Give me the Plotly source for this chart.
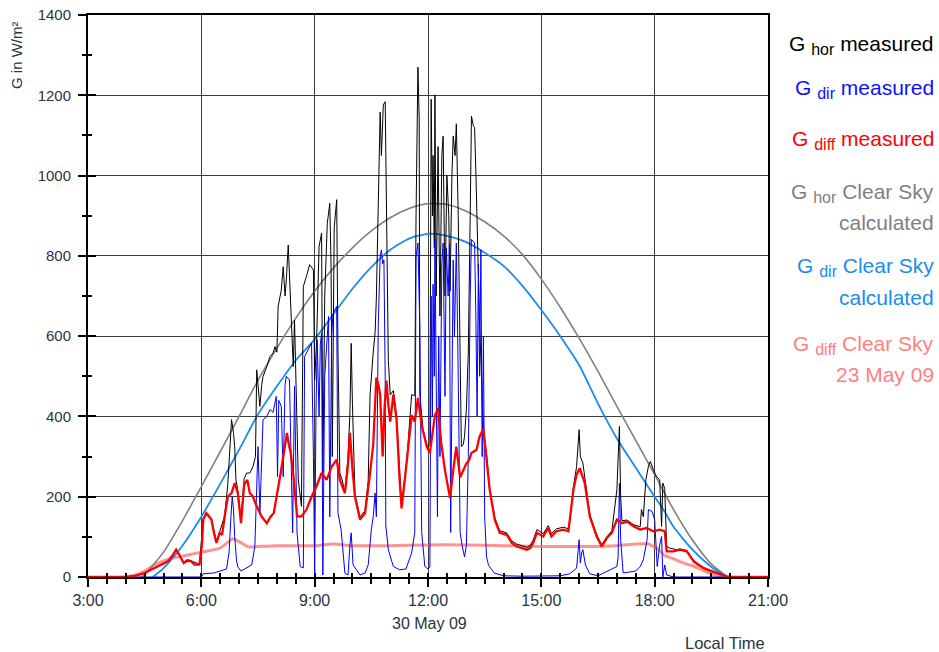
import plotly.graph_objects as go

DAY = "2009-05-30 "

# ---------------- data ----------------
# G_diff measured
diff_t = ["03:00","04:00","04:15","04:30","04:40","04:51","05:00","05:07","05:15","05:20",
          "05:25","05:32","05:38","05:44","05:49","05:57","06:01","06:03","06:08","06:12",
          "06:16","06:20","06:24","06:29","06:33","06:37","06:42","06:48","06:53","06:58",
          "07:03","07:08","07:13","07:17","07:22","07:28","07:36","07:44","07:50","07:55",
          "08:00","08:06","08:11","08:16","08:19","08:22","08:27","08:32","08:39","08:47",
          "08:55","09:03","09:11","09:19","09:27","09:35","09:40","09:48","09:53","09:56",
          "10:00","10:04","10:12","10:20","10:28","10:33","10:38","10:41","10:44","10:48",
          "10:51","10:54","10:57","11:00","11:05","11:10","11:15","11:18","11:23","11:29",
          "11:34","11:39","11:44","11:50","11:58","12:03","12:08","12:11","12:16","12:21",
          "12:27","12:35","12:40","12:45","12:51","12:56","13:01","13:05","13:09","13:17",
          "13:22","13:28","13:33","13:38","13:46","13:54","14:05","14:13","14:21","14:29",
          "14:37","14:42","14:47","14:53","15:03","15:11","15:16","15:24","15:35","15:43",
          "15:47","15:51","15:56","16:01","16:09","16:17","16:28","16:36","16:44","16:52",
          "17:00","17:08","17:16","17:27","17:37","17:47","17:58","18:08","18:16","18:19",
          "18:30","18:40","18:51","19:02","19:10","19:18","19:31","19:44","19:57","21:00"]
diff_v = [0,0,3,10,18,26,32,39,55,68,
          55,35,42,39,31,31,80,143,159,150,
          143,110,85,110,105,150,200,209,234,209,
          134,230,242,209,200,176,150,134,150,159,
          200,259,309,359,330,309,242,151,151,168,
          200,226,259,242,275,292,242,209,280,359,
          270,200,143,159,259,330,497,480,454,300,
          420,489,430,387,454,394,240,171,240,335,
          403,387,446,377,325,309,370,403,420,334,
          265,197,265,325,248,265,283,290,309,317,
          350,369,300,217,143,110,105,85,76,72,
          68,72,85,110,101,122,101,114,118,114,
          160,217,255,271,234,151,101,76,97,110,
          143,134,138,126,118,122,114,118,114,64,
          64,68,64,39,30,22,14,6,0,0]

# G_hor measured
hor_t = ["04:00","04:15","04:30","04:51","05:07","05:20","05:32","05:44","05:57","06:03",
         "06:08","06:16","06:24","06:29","06:37","06:42","06:46","06:48","06:51","06:53",
         "06:55","06:58","07:03","07:08","07:12","07:17","07:22","07:26","07:28","07:30",
         "07:33","07:36","07:38","07:44","07:49","07:54","07:57","08:00","08:02","08:07",
         "08:10","08:13","08:15","08:18","08:20","08:23","08:26","08:28","08:30","08:34",
         "08:39","08:42","08:47","08:52","08:58","09:00","09:03","09:07","09:11","09:13",
         "09:16","09:20","09:24","09:26","09:28","09:31","09:35","09:37","09:40","09:44",
         "09:48","09:53","09:56","09:58","10:00","10:04","10:12","10:20","10:25","10:28",
         "10:33","10:36","10:38","10:41","10:44","10:46","10:49","10:52","10:54","10:57",
         "11:00","11:05","11:10","11:13","11:18","11:23","11:26","11:34","11:39","11:41",
         "11:43","11:44","11:46","11:47","11:52","11:58","12:00","12:03","12:05","12:07",
         "12:08","12:10","12:11","12:13","12:16","12:19","12:22","12:24","12:27","12:30",
         "12:33","12:35","12:38","12:40","12:43","12:45","12:48","12:51","12:53","12:56",
         "12:58","13:01","13:04","13:07","13:09","13:12","13:14","13:16","13:19","13:22",
         "13:25","13:28","13:33","13:38","13:46","13:54","14:05","14:13","14:21","14:29",
         "14:37","14:42","14:47","14:53","15:03","15:11","15:16","15:24","15:35","15:43",
         "15:47","15:51","15:56","16:00","16:02","16:06","16:09","16:17","16:28","16:36",
         "16:44","16:52","17:00","17:02","17:04","17:06","17:08","17:16","17:27","17:37",
         "17:39","17:42","17:46","17:50","17:53","17:58","18:03","18:08","18:11","18:13",
         "18:16","18:19","18:24","18:35","18:40","18:51","19:02","19:18","19:31","19:44",
         "19:57"]
hor_v = [0,3,10,26,39,70,36,40,32,145,
         161,145,87,112,152,230,330,392,360,325,
         242,215,140,245,259,259,275,300,516,470,
         425,480,500,524,549,558,574,560,674,715,
         773,700,740,827,760,657,524,640,500,242,
         176,724,749,778,765,491,583,823,857,260,
         700,880,931,780,300,870,940,560,259,240,
         209,300,408,582,430,205,150,165,240,454,
         560,609,695,900,1158,1050,1176,1184,884,540,
         454,464,400,325,180,245,283,454,452,900,
         1236,1270,1141,454,369,330,325,330,1190,900,
         1050,820,1201,700,1072,650,1050,1098,700,1000,
         900,712,1000,1098,1050,1129,900,541,325,330,
         350,420,558,900,1148,1124,1120,1012,800,626,
         500,369,305,220,148,115,110,90,82,78,
         74,78,92,118,108,128,108,120,124,120,
         165,225,275,367,300,284,250,155,105,80,
         100,115,217,300,375,200,140,142,130,125,
         168,150,242,275,288,267,250,242,126,234,
         220,76,72,68,70,66,41,23,15,7,
         0]

# G_dir measured
dir_t = ["04:00","06:00","06:03","06:20","06:40","06:44","06:47","06:49","06:51","06:53",
         "06:56","06:58","07:03","07:14","07:20","07:25","07:28","07:30","07:33","07:36",
         "07:38","07:44","07:49","07:54","07:59","08:01","08:03","08:07","08:10","08:13",
         "08:15","08:20","08:23","08:25","08:28","08:32","08:37","08:42","08:44","08:47",
         "08:55","08:58","09:00","09:02","09:04","09:07","09:09","09:11","09:13","09:16",
         "09:22","09:24","09:27","09:29","09:35","09:37","09:42","09:48","09:53","09:56",
         "09:58","10:01","10:12","10:20","10:25","10:30","10:33","10:36","10:38","10:41",
         "10:44","10:46","10:48","10:50","10:52","10:53","10:57","11:05","11:15","11:25",
         "11:34","11:39","11:41","11:44","11:47","11:50","11:55","12:00","12:03","12:05",
         "12:07","12:08","12:10","12:11","12:13","12:15","12:17","12:19","12:22","12:24",
         "12:27","12:29","12:32","12:34","12:36","12:38","12:40","12:42","12:45","12:48",
         "12:51","12:54","12:58","13:01","13:04","13:07","13:09","13:12","13:14","13:16",
         "13:18","13:20","13:22","13:24","13:26","13:28","13:30","13:33","13:36","13:45",
         "14:00","14:30","15:00","15:30","15:45","15:56","16:00","16:02","16:04","16:06",
         "16:10","16:17","16:30","17:00","17:02","17:04","17:06","17:10","17:30","17:37",
         "17:42","17:48","17:50","17:56","18:00","18:04","18:08","18:11","18:13","18:16",
         "18:19","18:30","20:00"]
dir_v = [0,0,8,10,20,60,150,200,170,100,
         40,25,15,25,30,76,200,325,160,275,
         392,400,417,410,450,250,440,425,250,480,
         500,491,300,110,475,110,26,23,549,558,
         583,300,10,400,591,400,580,608,5,500,
         649,150,600,656,674,160,118,10,5,80,
         110,30,5,10,30,118,150,209,150,626,
         797,815,780,790,497,128,68,26,18,20,
         60,111,797,832,626,111,26,20,25,700,
         400,729,500,841,450,150,600,300,780,832,
         450,820,700,830,111,500,790,600,832,500,
         111,80,50,80,300,700,841,836,832,650,
         400,780,500,815,300,600,150,50,30,10,
         3,2,2,3,8,22,93,35,60,68,
         30,8,3,26,51,234,93,10,15,26,
         43,93,168,163,143,26,80,101,0,30,
         5,0,0]

# G_hor clear sky (calculated)
csh_t = ["04:25","04:30","05:00","05:30","06:00","06:30","07:00","07:30","08:00","08:30",
         "09:00","09:30","10:00","10:30","11:00","11:30","12:00","12:30","13:00","13:30",
         "14:00","14:30","15:00","15:30","16:00","16:30","17:00","17:30","18:00","18:30",
         "19:00","19:30","19:56"]
csh_v = [0,6,62,140,225,312,400,490,570,645,
         712,770,820,862,895,918,930,928,912,885,
         850,803,742,672,595,512,425,340,255,168,
         92,32,0]

# G_dir clear sky (calculated)
csd_t = ["04:43","05:00","05:30","06:00","06:30","07:00","07:30","08:00","08:30","09:00",
         "09:30","10:00","10:30","11:00","11:30","12:00","12:30","13:00","13:30","14:00",
         "14:30","15:00","15:30","16:00","16:30","17:00","17:30","18:00","18:15","18:30",
         "19:00","19:30","19:55"]
csd_v = [0,22,78,150,232,317,405,475,540,592,
         655,718,772,815,843,855,850,835,808,775,
         725,665,600,528,432,345,272,200,165,125,
         68,25,0]

# G_diff clear sky (23 May 09)
csf_t = ["04:00","04:15","04:30","04:45","05:00","05:15","05:30","05:45","06:00","06:30",
         "06:50","07:00","07:15","07:30","08:00","09:00","09:30","10:00","11:00","12:00",
         "13:00","14:00","15:00","16:00","17:00","17:30","17:50","18:05","18:15","18:30",
         "18:45","19:00","19:15","19:30","19:45","20:00"]
csf_v = [0,5,15,30,40,48,52,57,62,72,
         95,88,75,76,78,78,82,78,78,80,
         80,78,76,76,78,82,82,70,55,45,
         35,28,18,8,2,0]

for a, b in [(diff_t, diff_v), (hor_t, hor_v), (dir_t, dir_v),
             (csh_t, csh_v), (csd_t, csd_v), (csf_t, csf_v)]:
    assert len(a) == len(b), (len(a), len(b))

def ts(lst):
    return [DAY + t for t in lst]

FONT = "Liberation Sans, Arial, sans-serif"
TICKCOL = "#2b3440"

fig = go.Figure()
fig.add_trace(go.Scatter(x=ts(csf_t), y=csf_v, mode="lines",
                         line=dict(color="rgba(255,110,110,0.75)", width=3, shape="spline", smoothing=0.5)))
fig.add_trace(go.Scatter(x=ts(csh_t), y=csh_v, mode="lines",
                         line=dict(color="#808080", width=1.6, shape="spline", smoothing=0.6)))
fig.add_trace(go.Scatter(x=ts(csd_t), y=csd_v, mode="lines",
                         line=dict(color="#1a8cf0", width=1.8, shape="spline", smoothing=0.6)))
fig.add_trace(go.Scatter(x=ts(hor_t), y=hor_v, mode="lines",
                         line=dict(color="#000000", width=1)))
fig.add_trace(go.Scatter(x=ts(dir_t), y=dir_v, mode="lines",
                         line=dict(color="#0000ff", width=1)))
fig.add_trace(go.Scatter(x=ts(diff_t), y=diff_v, mode="lines",
                         line=dict(color="#ff0000", width=2.3)))
# helper trace to carry the inner half of the crossing ticks
fig.add_trace(go.Scatter(x=[DAY + "03:00"], y=[0], xaxis="x2", yaxis="y2", mode="markers",
                         marker=dict(opacity=0), hoverinfo="skip"))

xr = [DAY + "03:00", DAY + "21:00"]
H3 = 3 * 3600 * 1000
M30 = 1800 * 1000

fig.update_layout(
    width=939, height=652,
    margin=dict(l=88, r=171, t=15, b=75),
    paper_bgcolor="white", plot_bgcolor="white",
    showlegend=False,
    xaxis=dict(type="date", range=xr, tick0=DAY + "00:00", dtick=H3, tickformat="%-H:%M",
               ticks="outside", ticklen=8, tickwidth=2, tickcolor="black",
               showline=True, linewidth=2, linecolor="black", mirror=True,
               showgrid=True, gridcolor="#3c3c3c", gridwidth=1, zeroline=False,
               layer="below traces", ticklabelstandoff=0, automargin=False,
               tickfont=dict(family=FONT, size=16, color=TICKCOL),
               minor=dict(dtick=M30, tick0=DAY + "00:00", ticks="outside", ticklen=5,
                          tickwidth=2, tickcolor="black", showgrid=False)),
    xaxis2=dict(type="date", range=xr, overlaying="x", anchor="y", side="bottom",
                tick0=DAY + "00:00", dtick=H3, ticks="inside", ticklen=4, tickwidth=2,
                tickcolor="black", showticklabels=False, showgrid=False, showline=False,
                zeroline=False, automargin=False,
                minor=dict(dtick=M30, tick0=DAY + "00:00", ticks="inside", ticklen=4,
                           tickwidth=2, tickcolor="black", showgrid=False)),
    yaxis=dict(range=[0, 1400], dtick=200, ticks="outside", ticklen=8, tickwidth=2,
               tickcolor="black", showline=True, linewidth=2, linecolor="black", mirror=True,
               showgrid=True, gridcolor="#3c3c3c", gridwidth=1, zeroline=False,
               layer="below traces", ticklabelstandoff=4, automargin=False,
               tickfont=dict(family=FONT, size=15, color=TICKCOL),
               minor=dict(dtick=100, ticks="outside", ticklen=4, tickwidth=2,
                          tickcolor="black", showgrid=False)),
    yaxis2=dict(range=[0, 1400], overlaying="y", anchor="x", side="left", dtick=200,
                ticks="inside", ticklen=8, tickwidth=2, tickcolor="black",
                showticklabels=False, showgrid=False, showline=False, zeroline=False,
                automargin=False,
                minor=dict(dtick=100, ticks="inside", ticklen=4, tickwidth=2,
                           tickcolor="black", showgrid=False)),
)

def px(x):
    return (x - 88) / 680.0

def py(y):
    return (577 - y) / 562.0

ann = []
ann.append(dict(text="G in W/m²", x=px(17), y=py(55), textangle=-90,
                font=dict(family=FONT, size=15, color=TICKCOL)))
ann.append(dict(text="30 May 09", x=px(429), y=py(623),
                font=dict(family=FONT, size=16, color=TICKCOL)))
ann.append(dict(text="Local Time", x=px(767), y=py(643), xanchor="right",
                font=dict(family=FONT, size=16.5, color=TICKCOL)))

def sub(s):
    return "<sub><span style='font-size:16px'>" + s + "</span></sub>"

legend_items = [
    ("G " + sub("hor") + " measured", 45, "#000000"),
    ("G " + sub("dir") + " measured", 89, "#1010ff"),
    ("G " + sub("diff") + " measured", 140, "#ff0000"),
    ("G " + sub("hor") + " Clear Sky", 193, "#808080"),
    ("calculated", 222, "#808080"),
    ("G " + sub("dir") + " Clear Sky", 267, "#1a8cf0"),
    ("calculated", 297, "#1a8cf0"),
    ("G " + sub("diff") + " Clear Sky", 345, "#ff8080"),
    ("23 May 09", 375, "#ff8080"),
]
for text, yy, col in legend_items:
    ann.append(dict(text=text, x=px(936), y=py(yy), xanchor="right", align="right",
                    font=dict(family=FONT, size=21, color=col)))

for a in ann:
    a.update(xref="paper", yref="paper", showarrow=False)
    a.setdefault("xanchor", "center")
    a.setdefault("yanchor", "middle")
fig.update_layout(annotations=ann)

fig.write_html("out.html", config={"displayModeBar": False},
               post_script="document.body.style.margin='0';")
